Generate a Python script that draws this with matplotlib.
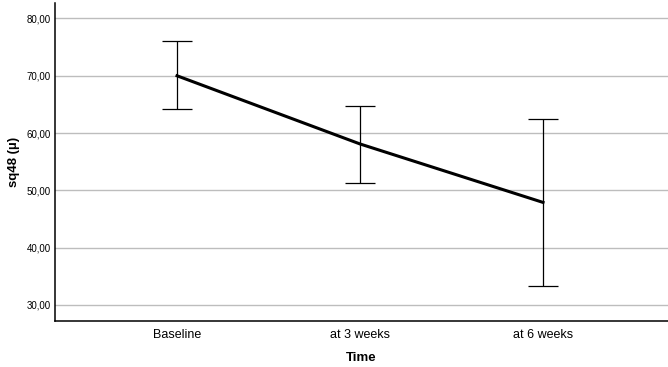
import matplotlib
matplotlib.use('Agg')
import matplotlib.pyplot as plt
import numpy as np

# data
categories = ['Baseline', 'at 3 weeks', 'at 6 weeks']
means = [70.0, 58.1, 47.9]
upper = [76.0, 64.7, 62.5]
lower = [64.2, 51.3, 33.3]
yticks = [30, 40, 50, 60, 70, 80]

plt.rcParams['font.family'] = ['Liberation Sans', 'DejaVu Sans']

x = np.arange(len(categories))
err = [np.array(means) - np.array(lower), np.array(upper) - np.array(means)]

fig = plt.figure(figsize=(6.68, 3.67), dpi=100)
ax = fig.add_axes([0.0823, 0.1253, 0.9177, 0.8665])

for y in yticks:
    ax.axhline(y, color='#bdbdbd', linewidth=1.0, zorder=0)

ax.errorbar(x, means, yerr=err, fmt='none', ecolor='black', elinewidth=0.9,
            capsize=10.8, capthick=0.9, zorder=2)
ax.plot(x, means, color='black', linewidth=2.2, zorder=3)

ax.set_xlim(-0.667, 2.683)
ax.set_ylim(27.2, 82.7)
ax.set_yticks(yticks)
ax.set_yticklabels([f'{v:.2f}'.replace('.', ',') for v in yticks], fontsize=7)
ax.set_xticks(x)
ax.set_xticklabels(categories, fontsize=9)
ax.tick_params(axis='y', length=0, pad=3)
ax.tick_params(axis='x', length=0, pad=6)

ax.spines['top'].set_visible(False)
ax.spines['right'].set_visible(False)
ax.spines['left'].set_linewidth(1.1)
ax.spines['bottom'].set_linewidth(1.1)

ax.set_ylabel('sq48 (µ)', fontsize=9.5, fontweight='bold', labelpad=5)
ax.set_xlabel('Time', fontsize=9.5, fontweight='bold', labelpad=8)

fig.savefig('out.png', dpi=100)
